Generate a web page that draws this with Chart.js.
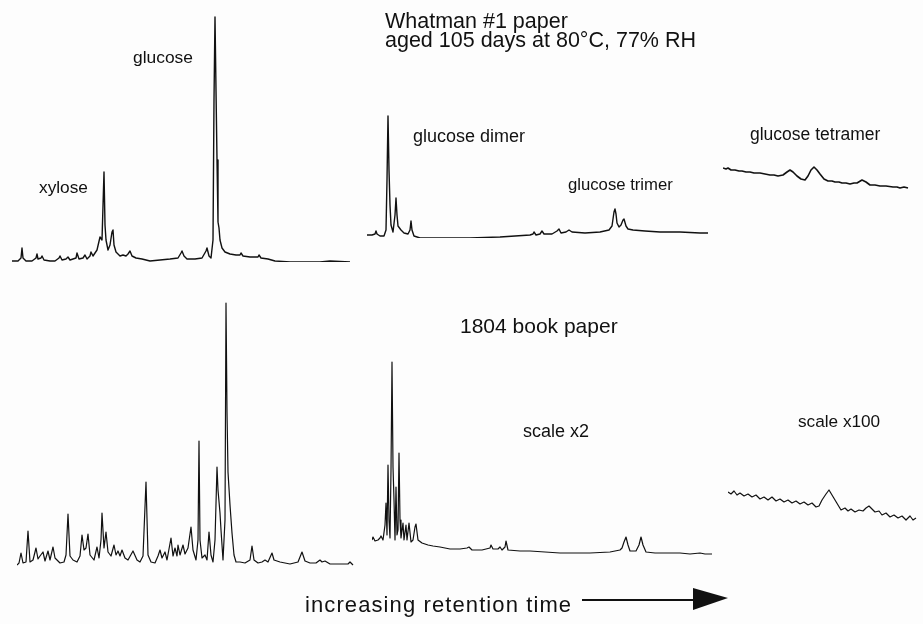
<!DOCTYPE html>
<html>
<head>
<meta charset="utf-8">
<script src="https://cdn.jsdelivr.net/npm/chart.js@4.4.1/dist/chart.umd.min.js"></script>
<style>
  html, body { margin:0; padding:0; background:#fdfdfd; }
  #page { position:relative; width:923px; height:624px; overflow:hidden; background:#fdfdfd; }
  .panel { position:absolute; }
  svg.overlay { position:absolute; left:0; top:0; pointer-events:none; }
  svg text { font-family:"Liberation Sans", Arial, sans-serif; fill:#111; }
</style>
</head>
<body>
<div id="page"></div>
<script>
// ---- Data (retention time units, detector signal above baseline) ----
// Whatman #1 aged: monomer region (xylose, glucose)
const whatmanMonoTime = [0,6,9,10,11,14,20,24,25,26,29,30,32,38,43,47,48,50,54,56,58,64,65,67,71,73,75,78,79,81,85,88,90,92,93,94,96,98,100,101,102,104,108,111,114,116,118,120,124,130,138,148,158,166,169,170,172,175,183,190,194,195,197,199,201,202,203,204,205,206,207,208,210,213,218,224,228,229,231,238,246,247,249,256,263,278,308,318,338];
const whatmanMonoSignal = [1,1,4,14,4,1,1,4,8,3,4,6,2,1,1,4,6,2,3,5,2,4,9,3,4,7,3,6,10,6,12,25,22,90,37,22,12,17,30,32,17,10,6,7,6,8,11,6,4,3,1,2,3,4,9,11,6,3,3,4,11,14,6,4,22,162,245,172,102,40,34,22,14,10,8,7,7,9,6,5,5,7,4,3,1,0,0,1,0];
// Whatman #1 aged: dimer / trimer region
const whatmanOligoTime = [0,5,8,9,10,13,17,19,20,21,22,23,24,26,28,29,30,31,34,37,41,43,44,45,47,53,73,103,133,148,163,166,167,169,173,175,177,185,190,192,194,199,202,205,218,233,242,245,247,248,249,250,252,254,256,257,259,261,266,278,293,313,333,341];
const whatmanOligoSignal = [3,3,4,7,4,2,2,8,58,122,68,33,13,6,23,40,23,12,8,5,4,8,17,8,2,0,0,0,1,2,3,4,6,3,4,7,4,4,7,9,5,6,8,6,5,6,8,12,26,29,24,15,11,13,18,19,12,9,8,7,6,6,5,5];
// Whatman #1 aged: tetramer region
const whatmanTetraTime = [0,3,5,8,12,16,19,23,27,31,37,42,47,51,55,60,64,67,70,74,78,82,85,88,91,94,97,101,105,109,112,116,119,123,127,131,134,139,143,147,152,157,163,170,174,177,181,185];
const whatmanTetraSignal = [22,21,22,20,20,19,19,18,18,17,17,16,15,15,14,15,18,20,18,14,11,10,14,20,23,20,16,11,9,9,8,8,7,7,6,7,7,10,8,5,5,4,4,3,3,2,3,2];
// 1804 book paper: monomer region
const bookMonoTime = [0,2,4,6,9,11,13,16,19,21,23,26,28,31,33,36,38,43,47,49,51,53,56,60,63,65,67,69,71,73,77,80,82,84,85,87,89,91,94,97,99,101,103,105,108,111,116,120,123,126,129,131,134,138,141,143,145,148,150,154,156,158,160,161,163,166,168,171,174,176,179,181,182,183,185,188,190,192,194,196,198,200,201,203,204,206,208,209,210,211,213,215,217,219,223,228,233,235,237,241,245,248,251,255,257,263,273,281,285,288,293,299,303,305,308,313,323,331,333,336];
const bookMonoSignal = [1,3,13,3,4,35,4,6,18,7,10,14,5,15,6,19,8,3,4,11,52,10,6,4,10,31,16,18,32,11,6,19,8,26,53,18,34,14,10,21,11,15,10,16,8,6,15,6,4,10,84,11,4,3,10,16,8,14,6,28,10,18,10,21,11,21,12,18,39,16,6,26,125,26,8,11,6,34,11,4,26,99,76,53,36,6,46,263,154,94,61,33,11,4,4,3,6,20,6,3,4,6,4,13,6,4,2,4,14,5,3,3,6,4,5,2,2,2,4,1];
// 1804 book paper: oligomer region (scale x2)
const bookOligoTime = [0,1,3,6,8,9,11,13,14,15,16,17,18,19,20,21,22,23,24,25,26,27,28,29,31,32,34,35,37,39,41,43,44,46,50,56,61,68,78,88,95,97,100,110,118,119,121,126,128,130,133,134,136,148,158,173,188,218,238,248,250,252,254,256,258,264,267,269,271,274,283,293,308,318,328,333,340];
const bookOligoSignal = [16,19,15,16,18,20,16,31,53,21,91,36,18,86,194,89,56,16,69,21,26,103,36,18,33,16,31,16,33,14,16,29,32,16,13,11,10,9,7,7,8,9,6,6,8,11,7,7,9,6,9,15,6,5,5,4,3,3,4,6,8,14,19,11,5,5,11,19,11,4,3,3,3,2,3,2,2];
// 1804 book paper: tetramer region (scale x100)
const bookTetraTime = [0,3,6,9,12,16,20,24,28,32,36,40,44,48,52,56,60,64,68,72,76,80,84,88,91,94,98,101,104,107,110,113,117,120,123,127,131,135,138,141,144,147,151,154,158,162,166,170,174,178,182,185,188];
const bookTetraSignal = [33,31,34,30,32,29,31,28,30,26,28,25,28,24,26,23,25,22,24,21,23,20,22,18,19,25,31,35,30,25,20,15,17,14,16,13,15,14,17,19,16,13,14,10,12,8,10,7,9,5,9,5,7];

// ---- Layout of the six traces on the page ----
const panels = [
  { time: whatmanMonoTime,  signal: whatmanMonoSignal,  left: 12,  baseline: 262, width: 340, height: 250, lw: 1.4 },
  { time: whatmanOligoTime, signal: whatmanOligoSignal, left: 367, baseline: 238, width: 342, height: 125, lw: 1.4 },
  { time: whatmanTetraTime, signal: whatmanTetraSignal, left: 723, baseline: 190, width: 186, height: 30,  lw: 1.6 },
  { time: bookMonoTime,     signal: bookMonoSignal,     left: 17,  baseline: 566, width: 337, height: 266, lw: 1.2 },
  { time: bookOligoTime,    signal: bookOligoSignal,    left: 372, baseline: 556, width: 341, height: 200, lw: 1.2 },
  { time: bookTetraTime,    signal: bookTetraSignal,    left: 728, baseline: 525, width: 189, height: 40,  lw: 1.2 }
];

const page = document.getElementById('page');
panels.forEach(p => {
  const c = document.createElement('canvas');
  c.className = 'panel';
  c.width = p.width; c.height = p.height;
  c.style.left = p.left + 'px';
  c.style.top = (p.baseline - p.height) + 'px';
  c.style.width = p.width + 'px';
  c.style.height = p.height + 'px';
  page.appendChild(c);
  new Chart(c, {
    type: 'scatter',
    data: { datasets: [{
      data: p.time.map((t, i) => ({ x: t, y: p.signal[i] })),
      showLine: true, borderColor: '#111', borderWidth: p.lw,
      pointRadius: 0, tension: 0, clip: false, borderJoinStyle: 'round'
    }]},
    options: {
      responsive: false, animation: false, devicePixelRatio: 1,
      layout: { padding: 0 },
      plugins: { legend: { display: false }, tooltip: { enabled: false } },
      scales: {
        x: { type: 'linear', min: 0, max: p.width, display: false },
        y: { type: 'linear', min: 0, max: p.height, display: false }
      }
    }
  });
});

// ---- Labels and retention-time arrow ----
const labels = [
  { t: 'Whatman #1 paper', x: 385, y: 28, s: 21.5 },
  { t: 'aged 105 days at 80°C, 77% RH', x: 385, y: 47, s: 21.5 },
  { t: 'glucose', x: 133, y: 63, s: 17.4 },
  { t: 'xylose', x: 39, y: 193, s: 17.3 },
  { t: 'glucose dimer', x: 413, y: 142, s: 18 },
  { t: 'glucose trimer', x: 568, y: 190, s: 16.7 },
  { t: 'glucose tetramer', x: 750, y: 140, s: 17.5 },
  { t: '1804 book paper', x: 460, y: 333, s: 21 },
  { t: 'scale x2', x: 523, y: 437, s: 18 },
  { t: 'scale x100', x: 798, y: 427, s: 17.2 },
  { t: 'increasing retention time', x: 305, y: 612, s: 22, ls: 1.1 }
];
const NS = 'http://www.w3.org/2000/svg';
const svg = document.createElementNS(NS, 'svg');
svg.setAttribute('class', 'overlay');
svg.setAttribute('width', 923); svg.setAttribute('height', 624);
labels.forEach(l => {
  const t = document.createElementNS(NS, 'text');
  t.setAttribute('x', l.x); t.setAttribute('y', l.y);
  t.setAttribute('font-size', l.s);
  if (l.ls) t.setAttribute('letter-spacing', l.ls);
  t.textContent = l.t;
  svg.appendChild(t);
});
const line = document.createElementNS(NS, 'line');
line.setAttribute('x1', 582); line.setAttribute('y1', 600);
line.setAttribute('x2', 700); line.setAttribute('y2', 600);
line.setAttribute('stroke', '#111'); line.setAttribute('stroke-width', 2);
svg.appendChild(line);
const tri = document.createElementNS(NS, 'polygon');
tri.setAttribute('points', '693,588 728,598 693,610');
tri.setAttribute('fill', '#111');
svg.appendChild(tri);
page.appendChild(svg);
</script>
</body>
</html>
